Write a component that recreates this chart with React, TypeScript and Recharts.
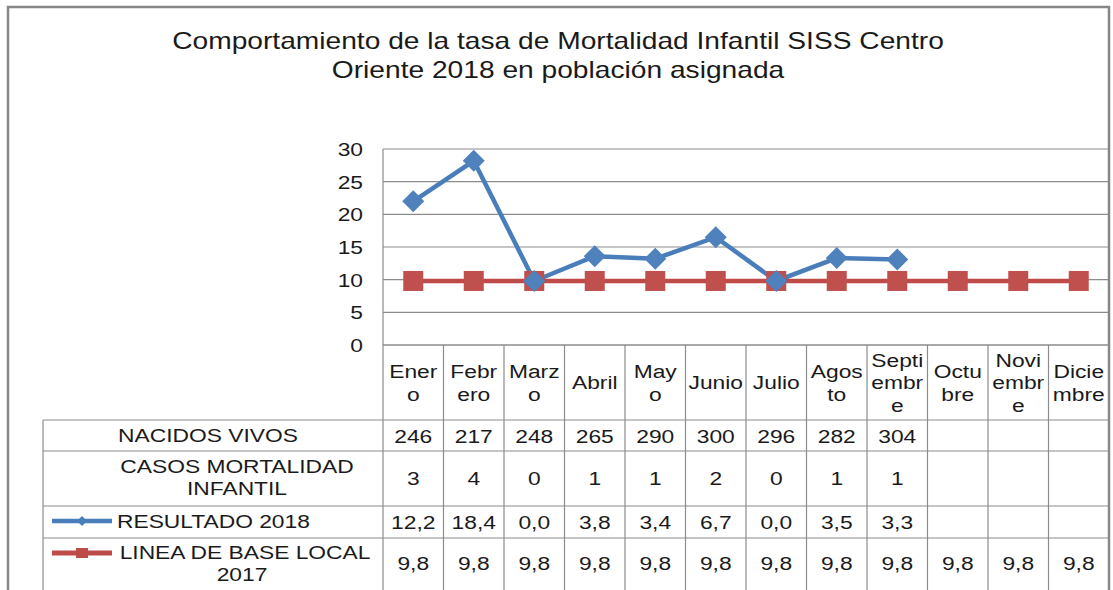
import React from 'react';
import { ComposedChart, Area, XAxis, YAxis, CartesianGrid, Customized } from 'recharts';

// ---------- data ----------
const months = ['Enero', 'Febrero', 'Marzo', 'Abril', 'Mayo', 'Junio', 'Julio', 'Agosto', 'Septiembre', 'Octubre', 'Noviembre', 'Diciembre'];
const monthLabels = ['Ener\no', 'Febr\nero', 'Marz\no', 'Abril', 'May\no', 'Junio', 'Julio', 'Agos\nto', 'Septi\nembr\ne', 'Octu\nbre', 'Novi\nembr\ne', 'Dicie\nmbre'];
const nacidosVivos: (number | null)[] = [246, 217, 248, 265, 290, 300, 296, 282, 304, null, null, null];
const casosMortalidad: (number | null)[] = [3, 4, 0, 1, 1, 2, 0, 1, 1, null, null, null];
const resultado2018: (number | null)[] = [12.2, 18.4, 0.0, 3.8, 3.4, 6.7, 0.0, 3.5, 3.3, null, null, null];
const lineaBase2017: (number | null)[] = [9.8, 9.8, 9.8, 9.8, 9.8, 9.8, 9.8, 9.8, 9.8, 9.8, 9.8, 9.8];
const yTicks = [0, 5, 10, 15, 20, 25, 30];
const titleLines = ['Comportamiento de la tasa de Mortalidad Infantil SISS Centro', 'Oriente 2018 en población asignada'];
const labelNacidos = ['NACIDOS VIVOS'];
const labelCasos = ['CASOS MORTALIDAD', 'INFANTIL'];
const labelResultado = ['RESULTADO 2018'];
const labelBase = ['LINEA DE BASE LOCAL', '2017'];

const data = months.map((m, i) => ({ month: m, base: lineaBase2017[i], resultado: resultado2018[i] }));

// ---------- styles ----------
const BLUE = '#4A7EBB';
const RED = '#BE4B48';
const GRID = '#8c8c8c';
const TEXT = '#1a1a1a';
const FONT = "'Liberation Sans', Arial, sans-serif";
const SX = 1.2;

const fmt1 = (v: number | null) => (v == null ? '' : v.toFixed(1).replace('.', ','));
const fmt0 = (v: number | null) => (v == null ? '' : String(v));

function T({ x, y, size = 19, anchor = 'middle', children }: any) {
  return (
    <text
      transform={`translate(${x},${y}) scale(${SX},1)`}
      x={0}
      y={0}
      dy="0.36em"
      textAnchor={anchor}
      fontFamily={FONT}
      fontSize={size}
      fill={TEXT}
    >
      {children}
    </text>
  );
}

const ROW_LINES = [75, 106, 161, 193];
const BOTTOM = 250;

function LeftColumn({ right, y }: any) {
  const left = 43;
  return (
    <g>
      {ROW_LINES.map((d) => (
        <line key={d} x1={left} x2={right} y1={y + d} y2={y + d} stroke={GRID} strokeWidth={1.2} />
      ))}
      <line x1={left} x2={left} y1={y + 75} y2={y + BOTTOM} stroke={GRID} strokeWidth={1.2} />
      <T x={208} y={y + 90.5}>{labelNacidos[0]}</T>
      <T x={237} y={y + 121}>{labelCasos[0]}</T>
      <T x={237} y={y + 143.5}>{labelCasos[1]}</T>
      <line x1={52} x2={112} y1={y + 176} y2={y + 176} stroke={BLUE} strokeWidth={4.5} />
      <polygon
        points={`82,${y + 171} 87,${y + 176} 82,${y + 181} 77,${y + 176}`}
        fill={BLUE}
      />
      <T x={117} y={y + 176} anchor="start">{labelResultado[0]}</T>
      <line x1={52} x2={112} y1={y + 208} y2={y + 208} stroke={RED} strokeWidth={5} />
      <rect x={76} y={y + 203} width={12} height={10} fill={RED} />
      <T x={245} y={y + 207}>{labelBase[0]}</T>
      <T x={242} y={y + 229}>{labelBase[1]}</T>
    </g>
  );
}

function MonthColumn(props: any) {
  const { x, y, payload, width, visibleTicksCount } = props;
  const i = payload && payload.index != null ? payload.index : props.index;
  const half = payload && payload.offset ? payload.offset : width / visibleTicksCount / 2;
  const l = x - half;
  const r = x + half;
  const lines = monthLabels[i].split('\n');
  const lh = 22.5;
  const start = y + 37.5 - ((lines.length - 1) * lh) / 2;
  return (
    <g>
      <line x1={l} x2={l} y1={y} y2={y + BOTTOM} stroke={GRID} strokeWidth={1.2} />
      {i === months.length - 1 && <line x1={r} x2={r} y1={y} y2={y + BOTTOM} stroke={GRID} strokeWidth={1.2} />}
      {ROW_LINES.map((d) => (
        <line key={d} x1={l} x2={r} y1={y + d} y2={y + d} stroke={GRID} strokeWidth={1.2} />
      ))}
      {lines.map((t, k) => (
        <T key={k} x={x} y={start + k * lh}>{t}</T>
      ))}
      <T x={x} y={y + 91}>{fmt0(nacidosVivos[i])}</T>
      <T x={x} y={y + 133}>{fmt0(casosMortalidad[i])}</T>
      <T x={x} y={y + 177}>{fmt1(resultado2018[i])}</T>
      <T x={x} y={y + 218}>{fmt1(lineaBase2017[i])}</T>
      {i === 0 && <LeftColumn right={l} y={y} />}
    </g>
  );
}

function YTick(props: any) {
  const { x, y, payload } = props;
  return <T x={x} y={y} anchor="end">{payload.value}</T>;
}

function Frame() {
  return (
    <g>
      <path d="M8 600 V7 H1109 V600" fill="none" stroke="#878787" strokeWidth={2.5} />
      <text transform={`translate(558,49) scale(1.225,1)`} textAnchor="middle" fontFamily={FONT} fontSize={23} fill={TEXT}>
        {titleLines[0]}
      </text>
      <text transform={`translate(558,77.5) scale(1.225,1)`} textAnchor="middle" fontFamily={FONT} fontSize={23} fill={TEXT}>
        {titleLines[1]}
      </text>
    </g>
  );
}

const renderSquare = (p: any) => {
  if (p.cy == null || p.cx == null) return <g key={`s${p.index}`} />;
  return <rect key={`s${p.index}`} x={p.cx - 10} y={p.cy - 10} width={20} height={20} fill="#C0504D" />;
};

const renderDiamond = (p: any) => {
  if (p.cy == null || p.cx == null || (p.payload && p.payload.resultado == null)) return <g key={`d${p.index}`} />;
  const h = 11;
  return (
    <polygon
      key={`d${p.index}`}
      points={`${p.cx},${p.cy - h} ${p.cx + h},${p.cy} ${p.cx},${p.cy + h} ${p.cx - h},${p.cy}`}
      fill="#4F81BD"
    />
  );
};

export default function App() {
  return (
    <div style={{ position: 'absolute', left: 0, top: 0, width: 1113, height: 590, background: '#fff' }}>
      <ComposedChart width={1113} height={590} data={data} margin={{ top: 149, right: 4, bottom: 215, left: 323 }}>
        <CartesianGrid horizontal vertical={false} stroke={GRID} strokeWidth={1.2} />
        <XAxis
          dataKey="month"
          scale="band"
          interval={0}
          height={30}
          tickSize={0}
          tickMargin={0}
          tickLine={false}
          axisLine={{ stroke: GRID, strokeWidth: 1.2 }}
          tick={<MonthColumn />}
        />
        <YAxis
          domain={[0, 30]}
          ticks={yTicks}
          interval={0}
          width={60}
          tickSize={0}
          tickMargin={20}
          tickLine={false}
          axisLine={{ stroke: GRID, strokeWidth: 1.2 }}
          tick={<YTick />}
        />
        <Area
          dataKey="base"
          stackId="s"
          type="linear"
          stroke={RED}
          strokeWidth={4.5}
          fill="none"
          dot={renderSquare}
          activeDot={false}
          isAnimationActive={false}
        />
        <Area
          dataKey="resultado"
          stackId="s"
          type="linear"
          stroke={BLUE}
          strokeWidth={4.5}
          fill="none"
          dot={renderDiamond}
          activeDot={false}
          isAnimationActive={false}
        />
        <Customized component={<Frame />} />
      </ComposedChart>
    </div>
  );
}
